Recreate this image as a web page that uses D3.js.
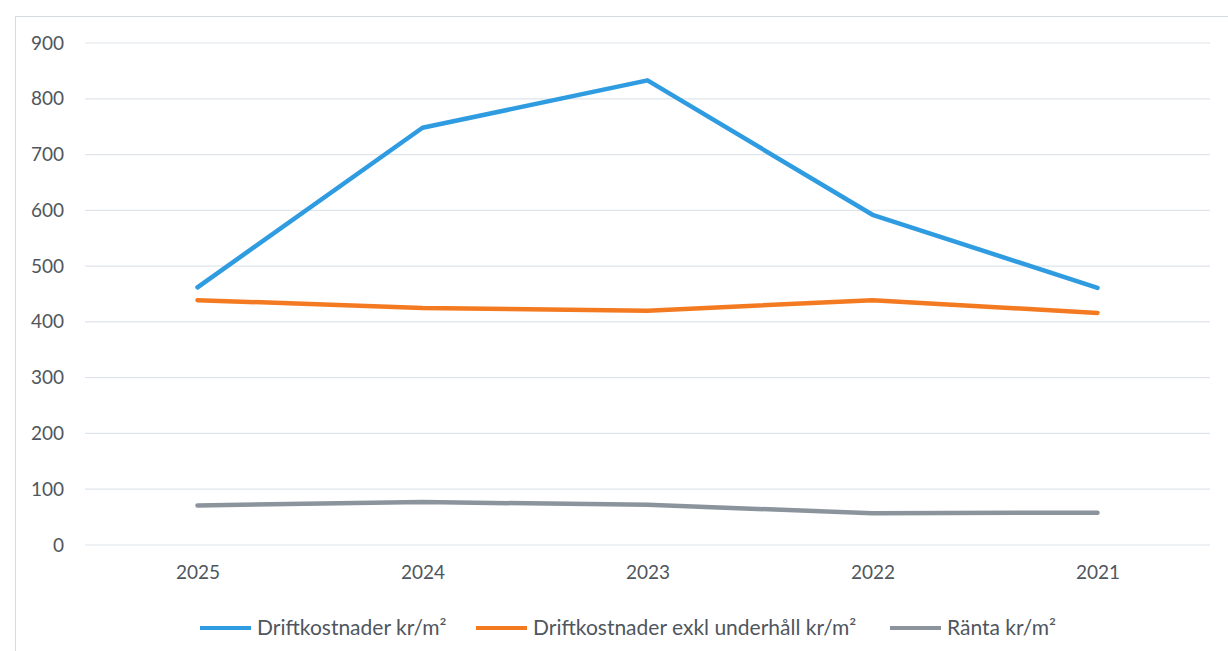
<!doctype html>
<html lang='en'>
<head>
  <meta charset='utf-8'>
  <title>Driftkostnader</title>
  <style>
    html, body { margin: 0; padding: 0; background: #fff; }
    text { font-family: Lato, 'Open Sans', sans-serif; fill: #4f565d; }
    .grid line { stroke: #dfe5ea; stroke-width: 1.2; }
    .series { fill: none; stroke-width: 4.5; stroke-linejoin: round; stroke-linecap: round; }
  </style>
</head>
<body>
  <script src='https://d3js.org/d3.v7.min.js'></script>
  <script>
    const years = ['2025', '2024', '2023', '2022', '2021']
    const yTicks = [0, 100, 200, 300, 400, 500, 600, 700, 800, 900]

    const drift = [462, 748, 833, 592, 461]
    const driftExkl = [439, 425, 420, 439, 416]
    const ranta = [71, 77, 72, 57, 58]

    const seriesNames = ['Driftkostnader kr/m²', 'Driftkostnader exkl underhåll kr/m²', 'Ränta kr/m²']
    const seriesColors = ['#2f9be0', '#f47a22', '#8b949c']

    const width = 1228
    const height = 651
    const margin = { top: 43, right: 18, bottom: 106, left: 85 }

    const svg = d3.select('body').append('svg')
      .attr('width', width)
      .attr('height', height)

    // outer frame
    svg.append('rect')
      .attr('x', 15.5).attr('y', 16.5)
      .attr('width', width - 14).attr('height', height)
      .attr('fill', 'none')
      .attr('stroke', '#d6dbdf')

    const x = d3.scalePoint()
      .domain(years)
      .range([margin.left, width - margin.right])
      .padding(0.5)

    const y = d3.scaleLinear()
      .domain([0, 900])
      .range([height - margin.bottom, margin.top])

    const grid = svg.append('g').attr('class', 'grid')
    grid.selectAll('line')
      .data(yTicks)
      .join('line')
      .attr('x1', margin.left)
      .attr('x2', width - margin.right)
      .attr('y1', d => y(d))
      .attr('y2', d => y(d))

    const yAxis = svg.append('g')
      .attr('transform', `translate(${margin.left},0)`)
      .call(d3.axisLeft(y).tickValues(yTicks).tickSize(0).tickPadding(21))
    yAxis.select('.domain').remove()
    yAxis.selectAll('text').style('font-size', '19px')

    const xAxis = svg.append('g')
      .attr('transform', `translate(0,${height - margin.bottom})`)
      .call(d3.axisBottom(x).tickSize(0).tickPadding(21))
    xAxis.select('.domain').remove()
    xAxis.selectAll('text').style('font-size', '19px')

    const line = d3.line()
      .x((d, i) => x(years[i]))
      .y(d => y(d))

    const allSeries = [drift, driftExkl, ranta]

    svg.append('g')
      .selectAll('path')
      .data(allSeries)
      .join('path')
      .attr('class', 'series')
      .attr('stroke', (d, i) => seriesColors[i])
      .attr('d', line)

    // legend
    const legendX = [200, 476, 890]
    const legendY = 628
    const legend = svg.append('g')
      .selectAll('g')
      .data(seriesNames)
      .join('g')
      .attr('transform', (d, i) => `translate(${legendX[i]},${legendY})`)

    legend.append('line')
      .attr('x1', 0).attr('x2', 51)
      .attr('y1', 0).attr('y2', 0)
      .attr('stroke', (d, i) => seriesColors[i])
      .attr('stroke-width', 4)

    legend.append('text')
      .attr('x', 57)
      .attr('dy', '0.35em')
      .style('font-size', '21px')
      .text(d => d)
  </script>
</body>
</html>
